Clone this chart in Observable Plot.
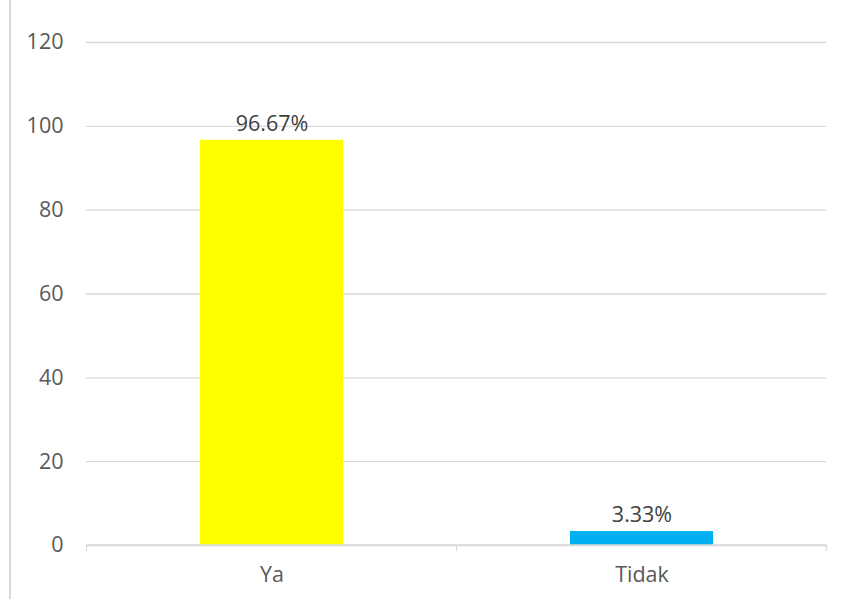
<!DOCTYPE html>
<html>
<head>
<meta charset="utf-8">
<script src="https://cdn.jsdelivr.net/npm/d3@7"></script>
<script src="https://cdn.jsdelivr.net/npm/@observablehq/plot@0.6"></script>
<style>
  html, body { margin: 0; padding: 0; background: #fff; }
  #wrap { position: relative; width: 842px; height: 599px; overflow: hidden; }
  #frame { position: absolute; left: 9px; top: 0; width: 2px; height: 599px; background: #d9d9d9; }
  #chart { position: absolute; left: 0; top: 0; }
</style>
</head>
<body>
<div id="wrap"><div id="frame"></div><div id="chart"></div></div>
<script>
const categories = ["Ya", "Tidak"];
const values = [96.67, 3.33];
const colors = ["#ffff00", "#00b0f0"];
const yTicks = [0, 20, 40, 60, 80, 100, 120];

const data = categories.map((c, i) => ({category: c, value: values[i], color: colors[i]}));

const font = "'Open Sans', 'Noto Sans', sans-serif";

function bandEdgeTicks(index, scales, values, dimensions) {
  const x = scales.x;
  const y = scales.y;
  const step = x.step();
  const bw = x.bandwidth();
  const pad = (step - bw) / 2;
  const edges = [];
  categories.forEach((c, i) => {
    if (i === 0) edges.push(x(c) - pad);
    edges.push(x(c) + bw + pad);
  });
  const g = d3.create("svg:g");
  const y0 = y(0);
  edges.forEach(e => {
    g.append("line")
      .attr("x1", e).attr("x2", e)
      .attr("y1", y0).attr("y2", y0 + 6)
      .attr("stroke", "#d9d9d9").attr("stroke-width", 1.3);
  });
  g.append("line")
    .attr("x1", edges[0]).attr("x2", edges[edges.length - 1])
    .attr("y1", y0).attr("y2", y0)
    .attr("stroke", "#d9d9d9").attr("stroke-width", 1.3);
  return g.node();
}

const chart = Plot.plot({
  width: 842,
  height: 599,
  marginLeft: 86,
  marginRight: 16,
  marginTop: 42,
  marginBottom: 54,
  style: {fontFamily: font, fontSize: "21.5px", color: "#595959", background: "transparent"},
  x: {domain: categories, paddingInner: 0.614, paddingOuter: 0.307, label: null},
  y: {domain: [0, 120], label: null},
  marks: [
    Plot.gridY(yTicks, {stroke: "#d9d9d9", strokeOpacity: 1, strokeWidth: 1.3}),
    Plot.axisY({ticks: yTicks, tickSize: 0, tickPadding: 23, label: null, fontSize: 21.5, fill: "#595959"}),
    Plot.axisX({tickSize: 0, tickPadding: 21, label: null, fontSize: 21.5, fill: "#595959"}),
    Plot.barY(data, {x: "category", y: "value", fill: "color"}),
    bandEdgeTicks,
    Plot.text(data, {x: "category", y: "value", text: d => d.value.toFixed(2) + "%", dy: -16, fontSize: 21.5, fill: "#404040"})
  ]
});
document.getElementById("chart").appendChild(chart);
</script>
</body>
</html>
